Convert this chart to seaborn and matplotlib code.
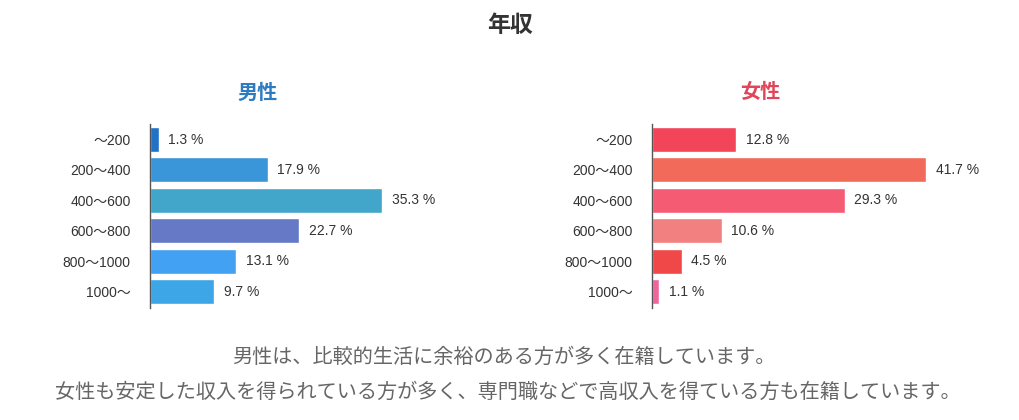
import pandas as pd
import matplotlib
matplotlib.use('Agg')
import matplotlib.pyplot as plt
import seaborn as sns

# ===== データ =====
categories = ['～200', '200～400', '400～600', '600～800', '800～1000', '1000～']
male_pct = [1.3, 17.9, 35.3, 22.7, 13.1, 9.7]
female_pct = [12.8, 41.7, 29.3, 10.6, 4.5, 1.1]

male_colors = ['#1F72C5', '#3A96D8', '#41A6C9', '#6579C6', '#42A1F2', '#3CA6E6']
female_colors = ['#F2455A', '#F26A5A', '#F55C74', '#F38080', '#F04848', '#EE6699']

title = '年収'
male_title = '男性'
female_title = '女性'
note_lines = [
    '男性は、比較的生活に余裕のある方が多く在籍しています。',
    '女性も安定した収入を得られている方が多く、専門職などで高収入を得ている方も在籍しています。',
]

sns.set_theme(style='white')
plt.rcParams['font.family'] = ['Noto Sans CJK JP', 'DejaVu Sans']
num_font = ['Liberation Sans', 'Noto Sans CJK JP']

fig = plt.figure(figsize=(10.2, 4.2), dpi=100)

W, H = 1020, 420
x_max = 45
ax_w = x_max * 6.57 / W
ax_b = (H - 308) / H
ax_h = 184 / H

panels = [
    (150 / W, male_pct, male_colors, male_title, '#2E7BC0'),
    (652 / W, female_pct, female_colors, female_title, '#E0455A'),
]

for x0, vals, cols, sub, sub_color in panels:
    ax = fig.add_axes([x0, ax_b, ax_w, ax_h])
    df = pd.DataFrame({'cat': categories, 'pct': vals})
    sns.barplot(data=df, x='pct', y='cat', hue='cat', palette=cols,
                order=categories, hue_order=categories, legend=False,
                orient='h', width=0.82, saturation=1, ax=ax)
    for i, v in enumerate(vals):
        ax.text(v + 1.5, i, f'{v} %', va='center', ha='left',
                fontsize=10, color='#333333', family=num_font)
    ax.set_xlim(0, x_max)
    ax.set_ylim(5.54, -0.51)
    ax.set_xlabel('')
    ax.set_ylabel('')
    ax.set_xticks([])
    ax.tick_params(axis='y', length=0, pad=14, labelsize=10, labelcolor='#333333')
    for lab in ax.get_yticklabels():
        lab.set_family(num_font)
    for s in ['top', 'right', 'bottom']:
        ax.spines[s].set_visible(False)
    ax.spines['left'].set_color('#555555')
    ax.spines['left'].set_linewidth(1)
    # 小見出し
    fig.text(x0 + (108 / W), 1 - 92 / H, sub, ha='center', va='center',
             fontsize=14.5, fontweight='bold', color=sub_color)

fig.text(0.5, 1 - 25 / H, title, ha='center', va='center',
         fontsize=16.5, fontweight='bold', color='#333333')

fig.text(504 / W, 1 - 357 / H, note_lines[0], ha='center', va='center',
         fontsize=14.5, color='#666666')
fig.text(508 / W, 1 - 392 / H, note_lines[1], ha='center', va='center',
         fontsize=14.5, color='#666666')

fig.savefig('out.png', dpi=100, facecolor='white')
